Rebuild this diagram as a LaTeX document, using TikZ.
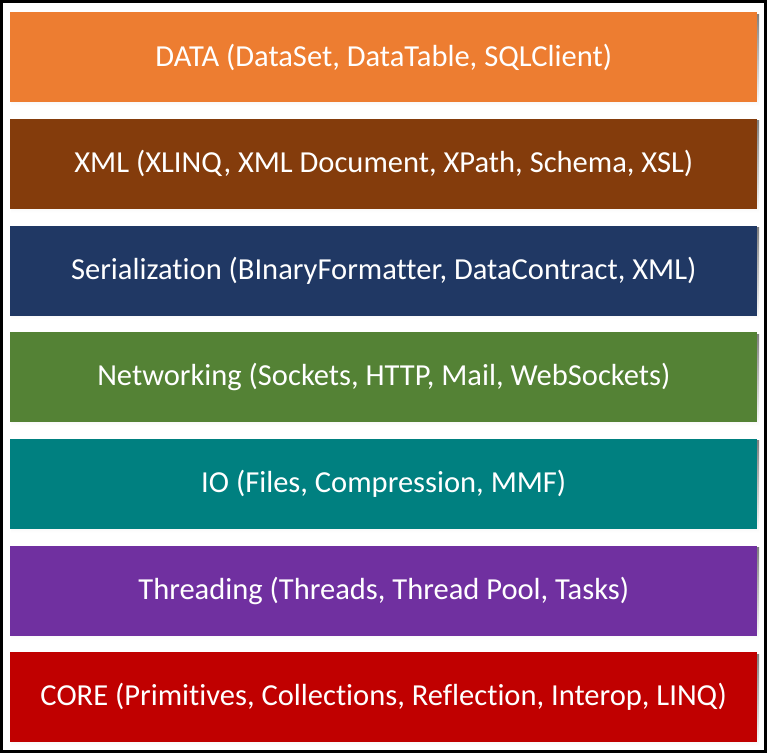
\documentclass[tikz,border=0pt]{standalone}
\usepackage{fontspec}
\setmainfont[Ligatures=NoCommon]{Carlito}
\definecolor{cData}{HTML}{ED7D31}
\definecolor{cXml}{HTML}{843C0C}
\definecolor{cSer}{HTML}{203864}
\definecolor{cNet}{HTML}{548235}
\definecolor{cIO}{HTML}{008080}
\definecolor{cThr}{HTML}{7030A0}
\definecolor{cCore}{HTML}{C00000}
\definecolor{shade}{HTML}{DCE3EC}
\begin{document}
\begin{tikzpicture}[x=0.75pt,y=-0.75pt,
  layer/.style={fill=#1, draw=none, minimum width=747*0.75pt, minimum height=90*0.75pt,
    inner sep=0pt, anchor=north west, text=white, font=\fontsize{22.9}{27}\selectfont},
  halo/.style={fill=shade, draw=none}]
\useasboundingbox (0,0) rectangle (767,753);
\fill[white] (0,0) rectangle (767,753);
\foreach \i in {0,...,6} {
  \fill[shade] (11,{12+\i*106.67+2}) rectangle (759,{12+\i*106.67+94});
}
\node[layer=cData] (data) at (10,12) {DATA (DataSet, DataTable, SQLClient)};
\node[layer=cXml] (xml) at (10,118.67) {XML (XLINQ, XML Document, XPath, Schema, XSL)};
\node[layer=cSer] (ser) at (10,225.33) {Serialization (BInaryFormatter, DataContract, XML)};
\node[layer=cNet] (net) at (10,332) {Networking (Sockets, HTTP, Mail, WebSockets)};
\node[layer=cIO] (io) at (10,438.67) {IO (Files, Compression, MMF)};
\node[layer=cThr] (thr) at (10,545.33) {Threading (Threads, Thread Pool, Tasks)};
\node[layer=cCore] (core) at (10,652) {CORE (Primitives, Collections, Reflection, Interop, LINQ)};
\draw[black, line width=2.25pt] (1.5,1.5) rectangle (765.5,751.5);
\end{tikzpicture}
\end{document}
